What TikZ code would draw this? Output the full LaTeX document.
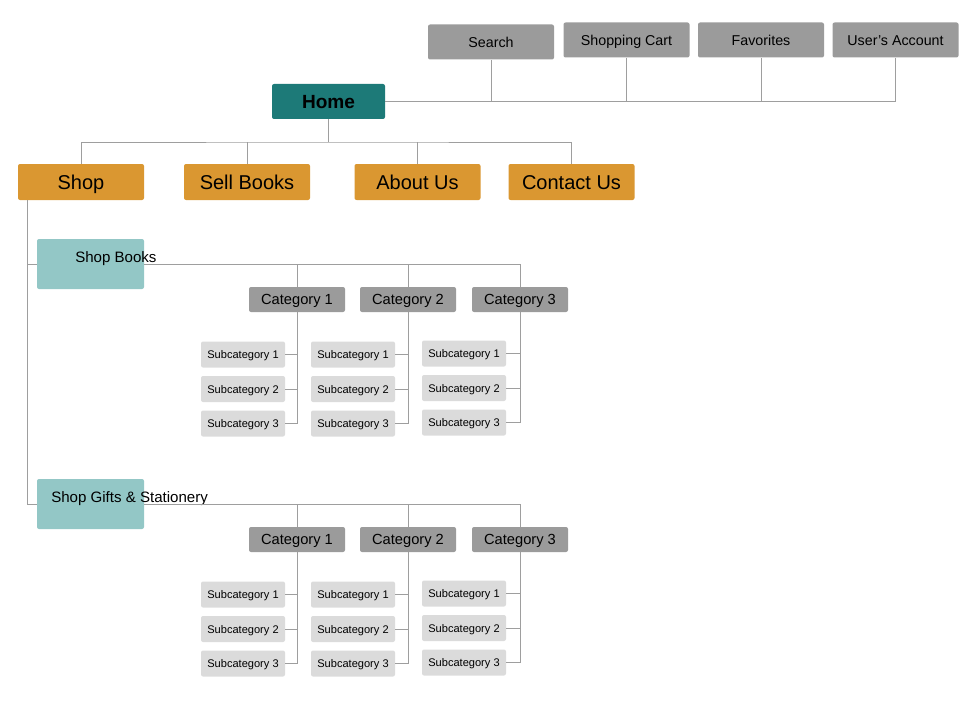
\documentclass[tikz,border=0pt]{standalone}
\usepackage{fontspec}
\setmainfont{Liberation Sans}
\usetikzlibrary{positioning,calc}
\definecolor{hometeal}{HTML}{1D7A78}
\definecolor{menuorange}{HTML}{DA9731}
\definecolor{boxgray}{HTML}{9B9B9B}
\definecolor{shopteal}{HTML}{93C7C6}
\definecolor{subgray}{HTML}{DBDBDB}
\definecolor{linkgray}{HTML}{9E9E9E}
\tikzset{
  box/.style={rounded corners=1.5pt, inner sep=0pt, align=center, text=black,
    text height=#1, text depth=0pt},
  utilbox/.style={box=7.7pt, fill=boxgray, minimum width=94.5pt, minimum height=26.25pt,
    font=\fontsize{10.7}{12}\selectfont},
  homebox/.style={box=10.3pt, fill=hometeal, minimum width=84.75pt, minimum height=26.25pt,
    font=\fontsize{14.3}{16}\selectfont\bfseries},
  menubox/.style={box=10.8pt, fill=menuorange, minimum width=94.5pt, minimum height=27pt,
    font=\fontsize{15}{17}\selectfont},
  shopbox/.style={box=0pt, fill=shopteal, minimum width=80.25pt, minimum height=37.5pt},
  shoptext/.style={anchor=west, inner sep=0pt, font=\fontsize{11.3}{13}\selectfont},
  catbox/.style={box=7.9pt, fill=boxgray, minimum width=72pt, minimum height=18.75pt,
    font=\fontsize{11}{13}\selectfont},
  subbox/.style={box=6pt, fill=subgray, minimum width=63pt, minimum height=19.5pt,
    font=\fontsize{8.3}{10}\selectfont},
  link/.style={draw=linkgray, line width=0.6pt}
}

\begin{document}
\begin{tikzpicture}[x=0.75pt, y=-0.75pt]
  \useasboundingbox (0,0) rectangle (980,706);

  % utility pages and home
  \node[utilbox] (search) at (491,42) {Search};
  \node[utilbox] (cart) at (626.5,40) {Shopping Cart};
  \node[utilbox] (fav) at (761,40) {Favorites};
  \node[utilbox] (account) at (895.5,40) {User's Account};
  \node[homebox] (home) at (328.5,101.5) {Home};

  \draw[link] (home.east) -- (account |- home.east);
  \foreach \n in {search,cart,fav,account}
    \draw[link] (\n.south) -- (\n |- home.east);

  % main menu
  \node[menubox] (shop) at (81,182) {Shop};
  \node[menubox] (sell) at (247,182) {Sell Books};
  \node[menubox] (about) at (417.5,182) {About Us};
  \node[menubox] (contact) at (571.5,182) {Contact Us};

  \coordinate (menubus) at (328.5,142);
  \draw[link] (home.south) -- (menubus);
  \draw[link] (shop.north) |- (menubus) -| (contact.north);
  \foreach \n in {sell,about}
    \draw[link] (\n.north) -- (\n |- menubus);

  % shop sections
  \coordinate (spine) at (27,200);
  \foreach \g/\gy/\txt/\tx in {books/264/Shop Books/75, gifts/504/Shop Gifts \& Stationery/51} {
    \node[shopbox] (\g) at (90.5,\gy) {};
    \node[shoptext] (\g-txt) at (\tx,\gy-5.5) {\txt};
    \draw[link] (spine) |- (\g.west);

    \foreach \c/\cx/\sx/\dy in {1/297/243/0, 2/408/353/0, 3/520/464/-1} {
      \node[catbox] (\g-cat\c) at (\cx,\gy+35.5) {Category \c};
      \foreach \s in {1,2,3}
        \node[subbox] (\g-sub\c\s) at (\sx,\gy+56+34.5*\s+\dy) {Subcategory \s};
      \draw[link] (\g-cat\c.south) |- (\g-sub\c3.east);
      \draw[link] (\g-sub\c1.east) -- (\g-sub\c1.east -| \g-cat\c.south);
      \draw[link] (\g-sub\c2.east) -- (\g-sub\c2.east -| \g-cat\c.south);
    }
    \draw[link] (\g.east) -| (\g-cat3.north);
    \draw[link] (\g-cat1.north) -- (\g-cat1 |- \g.east);
    \draw[link] (\g-cat2.north) -- (\g-cat2 |- \g.east);
  }
\end{tikzpicture}
\end{document}
